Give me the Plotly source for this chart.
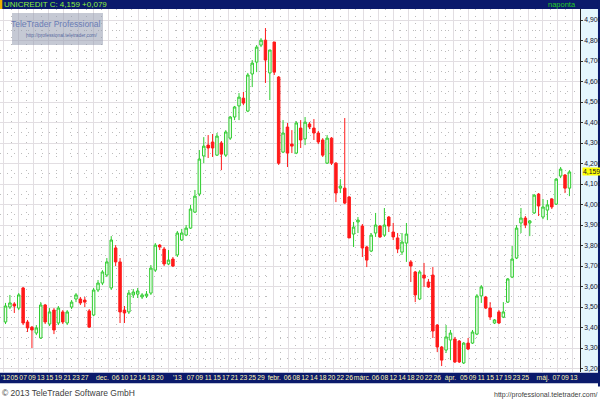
import plotly.graph_objects as go
import pandas as pd

# ---- data (prices in EUR) ----
dates = [d.strftime("%Y-%m-%d") for d in pd.bdate_range("2012-11-01", "2013-05-10")
         if d.strftime("%Y-%m-%d") not in ("2012-12-24", "2012-12-25", "2012-12-26", "2012-12-31",
                                           "2013-01-01", "2013-03-29", "2013-04-01", "2013-05-01")]

opens = [3.427, 3.500, 3.515, 3.495, 3.593, 3.427, 3.402, 3.373, 3.349, 3.510,
         3.417, 3.485, 3.422, 3.476, 3.422, 3.500, 3.539, 3.539, 3.534, 3.481,
         3.461, 3.583, 3.617, 3.656, 3.593, 3.788, 3.720, 3.485, 3.476, 3.559,
         3.563, 3.549, 3.554, 3.568, 3.680, 3.802, 3.783, 3.710, 3.734, 3.754,
         3.827, 3.851, 3.885, 3.963, 4.051, 4.237, 4.290, 4.305, 4.241, 4.300,
         4.241, 4.324, 4.427, 4.481, 4.519, 4.456, 4.637, 4.695, 4.778, 4.802,
         4.642, 4.793, 4.622, 4.256, 4.378, 4.295, 4.251, 4.373, 4.320, 4.393,
         4.373, 4.349, 4.315, 4.202, 4.324, 4.202, 4.080, 4.080, 4.037, 3.856,
         3.915, 3.895, 3.793, 3.773, 3.861, 3.895, 3.851, 3.939, 3.866, 3.837,
         3.768, 3.812, 3.720, 3.671, 3.539, 3.656, 3.622, 3.656, 3.412, 3.305,
         3.290, 3.339, 3.344, 3.334, 3.227, 3.324, 3.324, 3.368, 3.554, 3.549,
         3.495, 3.422, 3.476, 3.451, 3.524, 3.646, 3.739, 3.910, 3.934, 3.910,
         3.959, 4.051, 3.939, 3.973, 4.027, 4.002, 4.139, 4.144, 4.080]
highs = [3.520, 3.559, 3.524, 3.568, 3.598, 3.437, 3.407, 3.412, 3.524, 3.515,
         3.495, 3.495, 3.505, 3.485, 3.485, 3.534, 3.568, 3.549, 3.549, 3.490,
         3.593, 3.632, 3.680, 3.739, 3.846, 3.802, 3.739, 3.505, 3.583, 3.588,
         3.593, 3.568, 3.578, 3.705, 3.812, 3.807, 3.793, 3.778, 3.744, 3.871,
         3.881, 3.900, 3.998, 4.071, 4.266, 4.329, 4.339, 4.344, 4.349, 4.310,
         4.363, 4.432, 4.481, 4.544, 4.549, 4.642, 4.705, 4.778, 4.812, 4.861,
         4.754, 4.793, 4.627, 4.412, 4.398, 4.363, 4.407, 4.412, 4.427, 4.402,
         4.417, 4.359, 4.324, 4.339, 4.329, 4.207, 4.124, 4.422, 4.041, 3.915,
         3.939, 3.905, 3.798, 3.861, 3.959, 3.900, 3.983, 3.944, 3.910, 3.861,
         3.861, 3.910, 3.729, 3.676, 3.680, 3.715, 3.637, 3.695, 3.417, 3.310,
         3.412, 3.388, 3.354, 3.339, 3.329, 3.349, 3.388, 3.563, 3.607, 3.554,
         3.524, 3.441, 3.485, 3.524, 3.641, 3.798, 3.900, 3.983, 3.944, 3.924,
         4.051, 4.056, 4.027, 4.022, 4.032, 4.129, 4.183, 4.149, 4.168]
lows = [3.417, 3.490, 3.471, 3.485, 3.412, 3.378, 3.300, 3.363, 3.344, 3.417,
        3.407, 3.368, 3.412, 3.417, 3.412, 3.490, 3.524, 3.510, 3.500, 3.398,
        3.456, 3.573, 3.607, 3.646, 3.583, 3.700, 3.422, 3.422, 3.466, 3.544,
        3.544, 3.539, 3.544, 3.559, 3.671, 3.778, 3.700, 3.705, 3.695, 3.744,
        3.822, 3.846, 3.881, 3.959, 4.041, 4.202, 4.227, 4.232, 4.237, 4.168,
        4.232, 4.315, 4.412, 4.412, 4.485, 4.451, 4.573, 4.646, 4.768, 4.593,
        4.510, 4.632, 4.193, 4.251, 4.183, 4.251, 4.246, 4.276, 4.290, 4.368,
        4.315, 4.295, 4.232, 4.198, 4.193, 4.012, 4.056, 4.002, 3.900, 3.793,
        3.861, 3.744, 3.695, 3.768, 3.842, 3.837, 3.842, 3.866, 3.827, 3.763,
        3.754, 3.720, 3.622, 3.524, 3.534, 3.598, 3.593, 3.349, 3.280, 3.212,
        3.276, 3.241, 3.227, 3.227, 3.222, 3.290, 3.320, 3.363, 3.520, 3.490,
        3.437, 3.417, 3.417, 3.446, 3.520, 3.641, 3.734, 3.861, 3.885, 3.846,
        3.954, 3.944, 3.929, 3.924, 3.978, 3.998, 4.129, 4.056, 4.041]
closes = [3.505, 3.520, 3.505, 3.559, 3.422, 3.398, 3.388, 3.398, 3.510, 3.427,
          3.476, 3.388, 3.495, 3.427, 3.476, 3.524, 3.559, 3.520, 3.524, 3.402,
          3.583, 3.617, 3.671, 3.720, 3.827, 3.720, 3.476, 3.471, 3.568, 3.573,
          3.578, 3.559, 3.563, 3.690, 3.802, 3.793, 3.710, 3.729, 3.700, 3.861,
          3.861, 3.885, 3.978, 4.041, 4.222, 4.285, 4.276, 4.276, 4.334, 4.246,
          4.354, 4.427, 4.476, 4.524, 4.495, 4.632, 4.690, 4.768, 4.802, 4.705,
          4.754, 4.646, 4.202, 4.349, 4.251, 4.285, 4.398, 4.315, 4.402, 4.378,
          4.349, 4.305, 4.241, 4.324, 4.202, 4.056, 4.090, 4.007, 3.837, 3.890,
          3.924, 3.788, 3.729, 3.851, 3.900, 3.842, 3.900, 3.895, 3.842, 3.783,
          3.817, 3.856, 3.700, 3.559, 3.671, 3.641, 3.598, 3.383, 3.305, 3.241,
          3.354, 3.373, 3.232, 3.232, 3.324, 3.295, 3.378, 3.554, 3.598, 3.495,
          3.451, 3.437, 3.422, 3.476, 3.637, 3.734, 3.885, 3.934, 3.900, 3.920,
          4.046, 3.993, 3.988, 3.998, 3.988, 4.124, 4.173, 4.080, 4.159]

tick_pos = [0, 2, 4, 6, 8, 10, 12, 14, 16, 18, 22, 25, 27, 29, 31, 33, 35, 39, 42, 44, 46, 48,
            50, 52, 54, 56, 58, 61, 64, 66, 68, 70, 72, 74, 76, 78, 81, 84, 86, 88, 90, 92,
            94, 96, 98, 101, 104, 106, 108, 110, 112, 114, 116, 118, 122, 125, 127, 129]
tick_text = ["'12", "05", "07", "09", "13", "15", "19", "21", "23", "27", "dec.", "06", "10",
             "12", "14", "18", "20", "'13", "07", "09", "11", "15", "17", "21", "23", "25",
             "29", "febr.", "06", "08", "12", "14", "18", "20", "22", "26", "márc.", "06",
             "08", "12", "14", "18", "20", "22", "26", "ápr.", "05", "09", "11", "15", "17",
             "19", "23", "25", "máj.", "07", "09", "13"]
price_ticks = [3.2, 3.3, 3.4, 3.5, 3.6, 3.7, 3.8, 3.9, 4.0, 4.1, 4.2, 4.3, 4.4, 4.5, 4.6, 4.7, 4.8, 4.9]
last_close = closes[-1]
change = closes[-1] - closes[-2]

x = list(range(len(dates)))

NAVY = "#0b1a6b"
GRID = "#e2dee2"
DOTS = "#bcbcbc"
FONT = "Liberation Sans"

fig = go.Figure()
fig.add_trace(go.Candlestick(
    x=x, open=opens, high=highs, low=lows, close=closes,
    increasing=dict(line=dict(color="#2ecc2e", width=1), fillcolor="#f2fff2"),
    decreasing=dict(line=dict(color="#ff1a1a", width=1), fillcolor="#ff1a1a"),
    whiskerwidth=0, showlegend=False, hoverinfo="skip"))
# invisible trace that activates the grid-only x axis
fig.add_trace(go.Scatter(x=[0], y=[4.0], xaxis="x2", mode="markers",
                         marker=dict(opacity=0), showlegend=False, hoverinfo="skip"))

fig.update_layout(
    width=600, height=400,
    margin=dict(l=0, r=20, t=9, b=28, autoexpand=False),
    paper_bgcolor="white", plot_bgcolor="white",
    separators=",.",
    boxgap=0.2,
    xaxis=dict(range=[-1.25, 130.4], rangeslider=dict(visible=False), automargin=False,
               tickmode="array", tickvals=tick_pos, ticktext=tick_text, tickangle=0,
               tickfont=dict(family=FONT, size=6.8, color="#fff5b0"),
               ticks="", showgrid=False, zeroline=False, showline=False, fixedrange=True),
    xaxis2=dict(range=[-1.25, 130.4], overlaying="x", dtick=3.4, tick0=-0.4, automargin=False,
                showticklabels=False, showgrid=True, gridcolor=GRID, gridwidth=1,
                zeroline=False,
                minor=dict(dtick=1.7, tick0=1.3, showgrid=True, gridcolor=DOTS,
                           griddash="1px,6px", gridwidth=1)),
    yaxis=dict(side="right", range=[3.183, 4.954], tickmode="array", tickvals=price_ticks,
               automargin=False, tickformat=".3f",
               tickfont=dict(family=FONT, size=6.8, color="#101030"),
               ticks="outside", ticklen=2, tickcolor="#333", ticklabelstandoff=0,
               showline=True, linecolor="#222",
               gridcolor=GRID, gridwidth=1, zeroline=False,
               minor=dict(tickvals=[v + 0.05 for v in price_ticks], showgrid=True,
                          gridcolor=DOTS, griddash="1px,6px", gridwidth=1)),
)

shapes = [
    # header band
    dict(type="rect", xref="paper", yref="paper", x0=-0.01, x1=1.05, y0=1.0, y1=1.03,
         fillcolor=NAVY, line_width=0, layer="below"),
    dict(type="rect", xref="paper", yref="paper", x0=0, x1=0.004, y0=1.0, y1=1.03,
         fillcolor="#f0b000", line_width=0, layer="above"),
    # right axis panel
    dict(type="rect", xref="paper", yref="paper", x0=1.0, x1=1.031, y0=0, y1=1.0,
         fillcolor="#e4f6fd", line_width=0, layer="below"),
    dict(type="rect", xref="paper", yref="paper", x0=1.031, x1=1.05, y0=-0.04, y1=1.03,
         fillcolor=NAVY, line_width=0, layer="below"),
    # bottom date band
    dict(type="rect", xref="paper", yref="paper", x0=-0.01, x1=1.05, y0=-0.031, y1=-0.002,
         fillcolor=NAVY, line_width=0, layer="below"),
    # watermark
    dict(type="rect", xref="paper", yref="paper", x0=12/580, x1=103/580,
         y0=(372-45)/363, y1=(372-13)/363, fillcolor="rgba(150,156,176,0.55)",
         line_width=0, layer="above"),
]
fig.update_layout(shapes=shapes)

HEAD_Y = 1 + 4.5 / 363
ann = [
    dict(text=f"UNICREDIT C: {last_close:.3f}".replace(".", ",") + f" +{change:.3f}".replace(".", ","),
         x=0.005, y=HEAD_Y, xref="paper", yref="paper", xanchor="left", yanchor="middle",
         borderpad=0, showarrow=False, font=dict(family=FONT, size=8, color="#8cf03c")),
    dict(text="naponta", x=0.995, y=HEAD_Y, xref="paper", yref="paper", xanchor="right",
         yanchor="middle", borderpad=0, showarrow=False,
         font=dict(family=FONT, size=7.5, color="#22cc22")),
    dict(text=f"{last_close:.3f}".replace(".", ","), x=1.0, y=last_close, xref="paper", yref="y",
         xanchor="left", yanchor="middle", xshift=2, showarrow=False, bgcolor="#ffff00",
         borderpad=0, font=dict(family=FONT, size=6.8, color="#101030")),
    dict(text="TeleTrader Professional", x=56/580, y=(372-24)/363, xref="paper", yref="paper",
         xanchor="center", yanchor="middle", showarrow=False,
         font=dict(family=FONT, size=8.5, color="#6a7cb4")),
    dict(text="http://professional.teletrader.com/", x=62/580, y=(372-36)/363, xref="paper",
         yref="paper", xanchor="center", yanchor="middle", showarrow=False,
         font=dict(family=FONT, size=4.8, color="#5a6aa0")),
    dict(text="© 2013 TeleTrader Software GmbH", x=0.0, y=-0.058, xref="paper", yref="paper",
         xanchor="left", yanchor="middle", showarrow=False,
         font=dict(family=FONT, size=8.5, color="#404040")),
    dict(text="http://professional.teletrader.com/", x=1.034, y=-0.064, xref="paper", yref="paper",
         xanchor="right", yanchor="middle", showarrow=False,
         font=dict(family=FONT, size=7, color="#404040")),
]
fig.update_layout(annotations=ann)

fig.write_html("out.html", config={"displayModeBar": False},
               post_script="document.body.style.margin='0px';document.body.style.overflow='hidden';")
